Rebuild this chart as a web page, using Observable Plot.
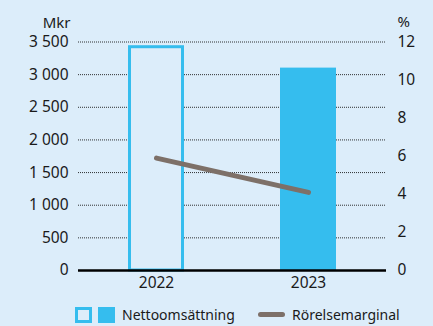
<!DOCTYPE html>
<html>
<head>
<meta charset="utf-8">
<script src="https://cdn.jsdelivr.net/npm/d3@7"></script>
<script src="https://cdn.jsdelivr.net/npm/@observablehq/plot@0.6"></script>
<style>
  html, body { margin: 0; padding: 0; background: #dcedfa; }
  #chart {
    position: relative; width: 433px; height: 326px; overflow: hidden;
    background: #dcedfa; font-family: "Noto Sans", sans-serif; color: #1a1a1a;
  }
  #chart svg { display: block; }
  .legend { position: absolute; top: 0; left: 0; width: 433px; height: 326px; pointer-events: none; font-size: 14px; }
  .sw { position: absolute; box-sizing: border-box; width: 17px; height: 16px; top: 307px; }
  .sw.outline { left: 75px; border: 3px solid #35bdee; background: #dcedfa; }
  .sw.filled { left: 98px; background: #35bdee; }
  .ln { position: absolute; left: 258px; top: 312px; width: 27px; height: 5px; border-radius: 3px; background: #7d7069; }
  .lt { position: absolute; top: 305px; line-height: 20px; white-space: nowrap; }
</style>
</head>
<body>
<div id="chart">
  <div class="legend">
    <div class="sw outline"></div>
    <div class="sw filled"></div>
    <div class="lt" style="left:122px">Nettoomsättning</div>
    <div class="ln"></div>
    <div class="lt" style="left:292px">Rörelsemarginal</div>
  </div>
</div>
<script>
// Net sales (MSEK) and operating margin (%) per year
const years = ["2022", "2023"];
const netSales = [3420, 3100];
const operatingMargin = [5.9, 4.1];
const mkrTicks = [0, 500, 1000, 1500, 2000, 2500, 3000, 3500];
const pctTicks = [0, 2, 4, 6, 8, 10, 12];

const bg = "#dcedfa";
const blue = "#35bdee";
const brown = "#7d7068";

// The percentage axis shares the vertical scale: 12 % sits at 3 500 Mkr
const k = 3500 / 12;
const rows = years.map((year, i) => ({year, sales: netSales[i], margin: operatingMargin[i]}));
const fmtMkr = d => d3.format(",")(d).replace(/,/g, " ");

const plot = Plot.plot({
  width: 433,
  height: 300,
  marginLeft: 78,
  marginRight: 47,
  marginTop: 41.5,
  marginBottom: 30,
  style: {background: bg, fontFamily: "'Noto Sans', sans-serif", fontSize: "15.5px", color: "#1a1a1a"},
  x: {domain: years, paddingInner: 0.634, paddingOuter: 0.327, label: null},
  y: {domain: [0, 3500], label: null},
  marks: [
    Plot.gridY(mkrTicks, {stroke: "#111", strokeOpacity: 0.85, strokeDasharray: "1,1"}),
    Plot.barY(rows.filter(d => d.year === "2022"), {x: "year", y: "sales", fill: bg, stroke: blue, strokeWidth: 3, insetLeft: 1.5, insetRight: 1.5}),
    Plot.barY(rows.filter(d => d.year !== "2022"), {x: "year", y: "sales", fill: blue}),
    Plot.ruleY([0], {stroke: "#000", strokeWidth: 2.5}),
    Plot.line(rows, {x: "year", y: d => d.margin * k, stroke: brown, strokeWidth: 5, strokeLinecap: "round"}),
    Plot.axisY(mkrTicks, {anchor: "left", tickSize: 0, tickPadding: 10, tickFormat: fmtMkr, label: null}),
    Plot.axisY(pctTicks.map(v => v * k), {anchor: "right", tickSize: 0, tickPadding: 11, tickFormat: d => String(Math.round(d / k)), label: null}),
    Plot.axisX({tickSize: 0, tickPadding: 6, label: null}),
    Plot.text(["Mkr"], {frameAnchor: "top-left", dx: -8, dy: -25, textAnchor: "end", fontSize: 15}),
    Plot.text(["%"], {frameAnchor: "top-right", dx: 11, dy: -26, textAnchor: "start", fontSize: 15})
  ]
});

document.getElementById("chart").prepend(plot);
</script>
</body>
</html>
